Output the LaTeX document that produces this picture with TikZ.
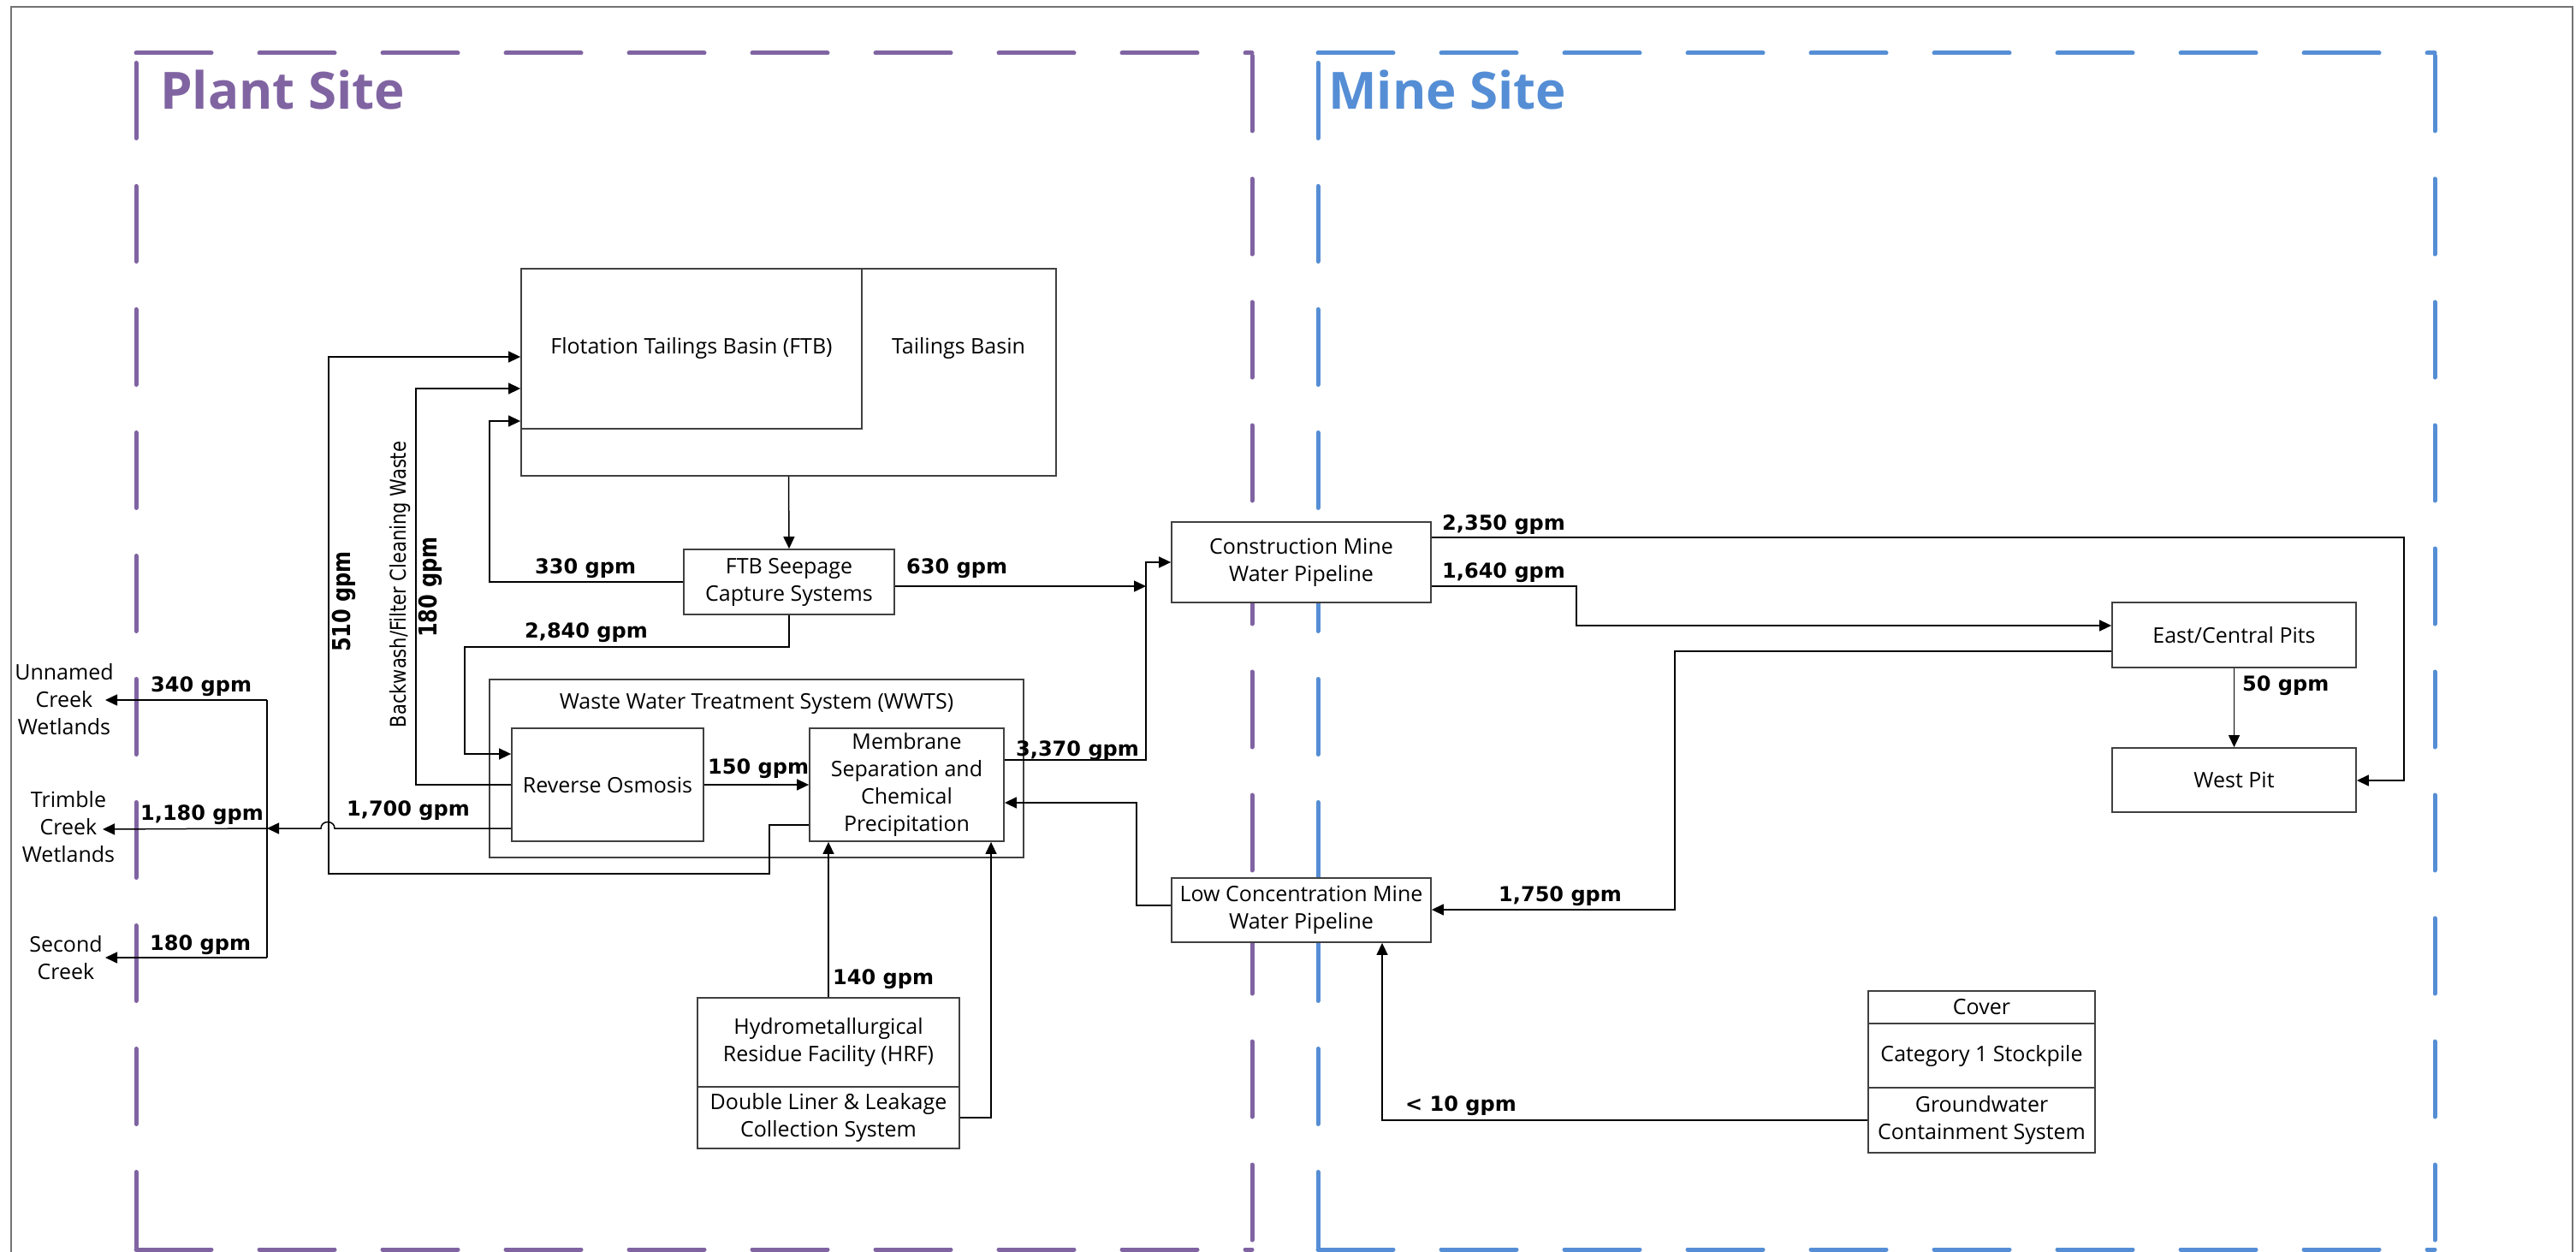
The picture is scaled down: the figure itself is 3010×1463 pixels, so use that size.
\documentclass[tikz,border=0pt]{standalone}
\usepackage{graphicx}
\usepackage{fontspec}
\setmainfont{Open Sans}
\newfontfamily\dvsans{DejaVu Sans}
\usetikzlibrary{arrows.meta,calc}
\definecolor{plantpurple}{HTML}{8064A2}
\definecolor{mineblue}{HTML}{558ED5}
\newcommand\bxfont{\fontsize{25}{32}\selectfont}
\newcommand\gpmfont{\dvsans\bfseries\fontsize{24}{28}\selectfont}
\newcommand\sitefont{\bfseries\fontsize{60}{70}\selectfont}
\newcommand\noteFont{\dvsans\fontsize{21}{24}\selectfont}
\newcommand\tall[1]{\scalebox{1}[1.2]{#1}}

\begin{document}
\begin{tikzpicture}[x=1pt,y=-1pt,
  box/.style={draw=black!75, fill=white, line width=1.8pt, inner sep=0pt,
    align=center, font=\bxfont},
  txt/.style={inner sep=0pt, align=center, font=\bxfont},
  gpm/.style={inner sep=0pt, font=\gpmfont},
  conn/.style={line width=1.5pt, draw=black},
  arr/.style={conn, -{Triangle[length=14pt,width=13pt]}},
  site/.style={line width=5pt, line cap=round, dash pattern=on 88pt off 56pt},
  frame/.style={line width=2.5pt, draw=black!55}]

\useasboundingbox (0,0) rectangle (3010,1463);

% page frame
\draw[frame] (13,1475) -- (13,8) -- (3006,8) -- (3006,1475);

% site outlines
\begin{scope}[site, draw=plantpurple]
  \draw (159,62) -- (1463,62);
  \draw (159,73.5) -- (159,1460);
  \draw (1463,65) -- (1463,1460);
  \draw (159,1460) -- (1463,1460);
\end{scope}
\begin{scope}[site, draw=mineblue]
  \draw (1540,62) -- (2845,62);
  \draw (1540,73.5) -- (1540,1460);
  \draw (2845,65) -- (2845,1460);
  \draw (1540,1460) -- (2845,1460);
\end{scope}
\node[anchor=base west, inner sep=0pt, font=\sitefont, text=plantpurple] (plantsite) at (187,128) {Plant Site};
\node[anchor=base west, inner sep=0pt, font=\sitefont, text=mineblue] (minesite) at (1552,128) {Mine Site};

% plant site units
\node[box, minimum width=625pt, minimum height=242pt] (tb) at (921.5,435) {};
\node[box, minimum width=398pt, minimum height=187pt] (ftb) at (808,407.5) {Flotation Tailings Basin (FTB)};
\node[txt] (tbtxt) at (1120,407) {Tailings Basin};
\node[box, minimum width=246pt, minimum height=76pt] (seep) at (922,680) {FTB Seepage\\Capture Systems};
\node[box, minimum width=624pt, minimum height=208pt] (wwts) at (884,898) {};
\node[txt] (wwtstxt) at (884,822) {Waste Water Treatment System (WWTS)};
\node[box, minimum width=224pt, minimum height=132pt] (ro) at (710,917) {Reverse Osmosis};
\node[box, minimum width=227pt, minimum height=132pt] (msp) at (1059.5,917) {Membrane\\Separation and\\Chemical\\Precipitation};
\node[box, minimum width=306pt, minimum height=104pt] (hrf) at (968,1218) {Hydrometallurgical\\Residue Facility (HRF)};
\node[box, minimum width=306pt, minimum height=72pt] (dlc) at (968,1306) {Double Liner \& Leakage\\Collection System};

% receiving waters
\node[txt] (unnamed) at (75,817) {Unnamed\\Creek\\Wetlands};
\node[txt] (trimble) at (80,966) {Trimble\\Creek\\Wetlands};
\node[txt] (second) at (77,1119) {Second\\Creek};

% mine site units
\node[box, minimum width=303pt, minimum height=94pt] (cmwp) at (1520.5,657) {Construction Mine\\Water Pipeline};
\node[box, minimum width=303pt, minimum height=75pt] (lcmwp) at (1520.5,1063.5) {Low Concentration Mine\\Water Pipeline};
\node[box, minimum width=285pt, minimum height=76pt] (ecp) at (2610.5,742) {East/Central Pits};
\node[box, minimum width=285pt, minimum height=75pt] (wp) at (2610.5,911.5) {West Pit};
\node[box, minimum width=265pt, minimum height=38pt] (cover) at (2315.5,1177) {Cover};
\node[box, minimum width=265pt, minimum height=75pt] (cat) at (2315.5,1233.5) {Category 1 Stockpile};
\node[box, minimum width=265pt, minimum height=76pt] (gcs) at (2315.5,1309) {Groundwater\\Containment System};

% junction points
\coordinate (cu) at (312,818);
\coordinate (ct) at (312,968);
\coordinate (cs) at (312,1119);
\coordinate (j630) at (1339,685);

% discharge collector
\draw[conn] (cu) -- (cs);
\draw[arr] (cu) -- ($(unnamed.center)+(48,1)$);
\draw[arr] (ct) -- ($(trimble.center)+(40,3)$);
\draw[arr] (cs) -- ($(second.center)+(46,0)$);

% plant site flows
\draw[arr] (ro.west |- 0,968) -- (391,968) .. controls (391,958) and (375,958) .. (375,968) -- (ct);
\draw[arr] (msp.west |- 0,964) -- (899,964) -- (899,1021) -- (384,1021) -- (384,417) -- (ftb.west |- 0,417);
\draw[arr] (ro.west |- 0,917) -- (486,917) -- (486,454) -- (ftb.west |- 0,454);
\draw[arr] (seep.west) -- (572,680) -- (572,492) -- (ftb.west |- 0,492);
\draw[arr] (tb.south) -- (seep.north);
\draw[arr] (seep.south) -- (922,756) -- (543,756) -- (543,881) -- (ro.west |- 0,881);
\draw[arr] (ro.east) -- (msp.west);
\draw[arr] (seep.east |- 0,685) -- (j630);
\draw[arr] (msp.east |- 0,888) -- (1339,888) -- (1339,657) -- (cmwp.west);
\draw[arr] (lcmwp.west |- 0,1058) -- (1328,1058) -- (1328,938) -- (msp.east |- 0,938);
\draw[arr] (hrf.north) -- (msp.south -| hrf.north);
\draw[arr] (dlc.east) -- (1158,1306) -- (msp.south -| 1158,0);

% mine site flows
\draw[arr] (cmwp.east |- 0,628) -- (2809,628) -- (2809,912) -- (wp.east |- 0,912);
\draw[arr] (cmwp.east |- 0,685) -- (1842,685) -- (1842,731) -- (ecp.west |- 0,731);
\draw[arr] (ecp.south) -- (wp.north);
\draw[arr] (ecp.west |- 0,761) -- (1957,761) -- (1957,1063) -- (lcmwp.east |- 0,1063);
\draw[arr] (gcs.west |- 0,1309) -- (1615,1309) -- (lcmwp.south -| 1615,0);

% flow labels
\node[gpm, anchor=base west] (l340) at (176,808) {340 gpm};
\node[gpm, anchor=base west] (l1180) at (164,958) {1,180 gpm};
\node[gpm, anchor=base west] (l180s) at (175,1110) {180 gpm};
\node[gpm, anchor=base west] (l1700) at (405,953) {1,700 gpm};
\node[gpm, anchor=base west] (l330) at (625,670) {330 gpm};
\node[gpm, anchor=base west] (l630) at (1059,670) {630 gpm};
\node[gpm, anchor=base west] (l2840) at (613,745) {2,840 gpm};
\node[gpm, anchor=base west] (l150) at (827,904) {150 gpm};
\node[gpm, anchor=base west] (l3370) at (1187,883) {3,370 gpm};
\node[gpm, anchor=base west] (l140) at (973,1150) {140 gpm};
\node[gpm, anchor=base west] (l2350) at (1685,619) {2,350 gpm};
\node[gpm, anchor=base west] (l1640) at (1685,675) {1,640 gpm};
\node[gpm, anchor=base west] (l1750) at (1751,1053) {1,750 gpm};
\node[gpm, anchor=base west] (l50) at (2620,807) {50 gpm};
\node[gpm, anchor=base west] (l10) at (1642,1298) {< 10 gpm};
\node[gpm, rotate=90] (l510) at (402,703) {\tall{510 gpm}};
\node[gpm, rotate=90] (l180b) at (503,686) {\tall{180 gpm}};
\node[inner sep=0pt, rotate=90, font=\noteFont] (bwlbl) at (468,683) {\tall{Backwash/Filter Cleaning Waste}};

\end{tikzpicture}
\end{document}
